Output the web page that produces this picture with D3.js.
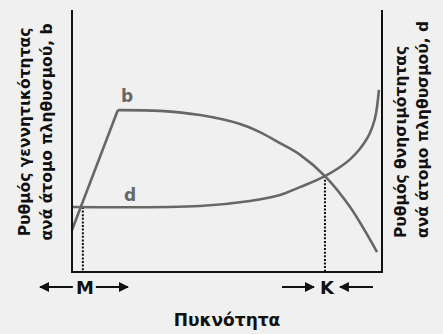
<!DOCTYPE html>
<html lang="el">
<head>
<meta charset="UTF-8">
<title>Πυκνότητα</title>
<script src="https://d3js.org/d3.v7.min.js"></script>
<style>
  body { margin: 0; background: #f0f0f0; }
  svg { display: block; }
  .axis-line { stroke: #111; stroke-width: 2; }
  .curve { fill: none; stroke: #676767; stroke-width: 2.6; }
  .guide { stroke: #111; stroke-width: 2; stroke-dasharray: 2,1.6; }
  .lbl { font-family: "DejaVu Sans", sans-serif; font-weight: bold; fill: #111; }
  .curve-lbl { font-family: "DejaVu Sans", sans-serif; font-weight: bold; fill: #676767; font-size: 17px; }
</style>
</head>
<body>
<svg width="443" height="334"></svg>
<script>
// birth rate b vs density
const birthDensity = [0, 14.8, 28.4, 41.3, 54.2, 60.6, 67.1, 73.5, 81.6, 89.7, 98.4];
const birthRate    = [16.0, 61.8, 61.5, 59.9, 56.5, 53.4, 49.2, 44.8, 36.6, 24.8, 7.6];
// death rate d vs density
const deathDensity = [0, 41.3, 57.4, 67.1, 73.5, 81.6, 89.7, 95.2, 97.7, 99.0];
const deathRate    = [24.8, 25.2, 27.1, 29.4, 32.4, 36.6, 43.0, 51.0, 58.5, 69.5];
// M and K markers
const markers = [
  { name: "M", density: 3.5, rate: 24.8 },
  { name: "K", density: 81.6, rate: 36.6 }
];

const svg = d3.select("svg");
const x = d3.scaleLinear().domain([0, 100]).range([72, 382]);
const y = d3.scaleLinear().domain([0, 100]).range([272, 10]);

const bPts = birthDensity.map((v, i) => [v, birthRate[i]]);
const dPts = deathDensity.map((v, i) => [v, deathRate[i]]);

const lineLin = d3.line().x(d => x(d[0])).y(d => y(d[1]));
const lineSmooth = d3.line().x(d => x(d[0])).y(d => y(d[1])).curve(d3.curveCatmullRom.alpha(0.5));

// dotted guides
svg.selectAll(".guide").data(markers).enter().append("line")
  .attr("class", "guide")
  .attr("x1", d => x(d.density)).attr("x2", d => x(d.density))
  .attr("y1", d => y(d.rate)).attr("y2", y(0));

// curves
svg.append("path").attr("class", "curve").attr("d", lineLin(bPts.slice(0, 2)));
svg.append("path").attr("class", "curve").attr("d", lineSmooth(bPts.slice(1)));
svg.append("path").attr("class", "curve").attr("d", lineSmooth(dPts));

// frame: left, bottom, right
svg.append("line").attr("class", "axis-line").attr("x1", x(0)).attr("x2", x(0)).attr("y1", y(100)).attr("y2", y(0) + 1);
svg.append("line").attr("class", "axis-line").attr("x1", x(0) - 1).attr("x2", x(100) + 1).attr("y1", y(0)).attr("y2", y(0));
svg.append("line").attr("class", "axis-line").attr("x1", x(100)).attr("x2", x(100)).attr("y1", y(100)).attr("y2", y(0) + 1);

// curve labels
svg.append("text").attr("class", "curve-lbl").attr("x", 127).attr("y", 102).attr("text-anchor", "middle").text("b");
svg.append("text").attr("class", "curve-lbl").attr("x", 130).attr("y", 201).attr("text-anchor", "middle").text("d");

// marker labels with arrows
const defs = svg.append("defs");
defs.append("marker").attr("id", "ah").attr("viewBox", "0 0 10 10")
  .attr("refX", 9).attr("refY", 5).attr("markerWidth", 10).attr("markerHeight", 10)
  .attr("markerUnits", "userSpaceOnUse").attr("orient", "auto")
  .append("path").attr("d", "M0,0 L10,5 L0,10 Z").attr("fill", "#111");

const ay = 287;
svg.selectAll(".mk").data(markers).enter().append("text")
  .attr("class", "lbl").attr("font-size", 18)
  .attr("x", d => x(d.density) + 2).attr("y", ay + 7)
  .attr("text-anchor", "middle").text(d => d.name);

const arrows = [
  [x(markers[0].density) - 10, 40],
  [x(markers[0].density) + 13, 128],
  [x(markers[1].density) - 43, x(markers[1].density) - 11],
  [x(markers[1].density) + 48, x(markers[1].density) + 15]
];
svg.selectAll(".arr").data(arrows).enter().append("line")
  .attr("x1", d => d[0]).attr("x2", d => d[1])
  .attr("y1", ay).attr("y2", ay)
  .attr("stroke", "#111").attr("stroke-width", 2)
  .attr("marker-end", "url(#ah)");

// axis titles
svg.append("text").attr("class", "lbl").attr("font-size", 17)
  .attr("x", 227).attr("y", 326).attr("text-anchor", "middle").text("Πυκνότητα");

const leftLines = ["Ρυθμός γεννητικότητας", "ανά άτομο πληθυσμού, b"];
svg.selectAll(".yl").data(leftLines).enter().append("text")
  .attr("class", "lbl").attr("font-size", 15.5)
  .attr("text-anchor", "middle")
  .attr("transform", (d, i) => `translate(${30 + i * 22},132) rotate(-90)`)
  .text(d => d);

const rightLines = ["Ρυθμός θνησιμότητας", "ανά άτομο πληθυσμού, d"];
svg.selectAll(".yr").data(rightLines).enter().append("text")
  .attr("class", "lbl").attr("font-size", 15.5)
  .attr("text-anchor", "start")
  .attr("transform", (d, i) => `translate(${406 + i * 22},238) rotate(-90)`)
  .text(d => d);
</script>
</body>
</html>
